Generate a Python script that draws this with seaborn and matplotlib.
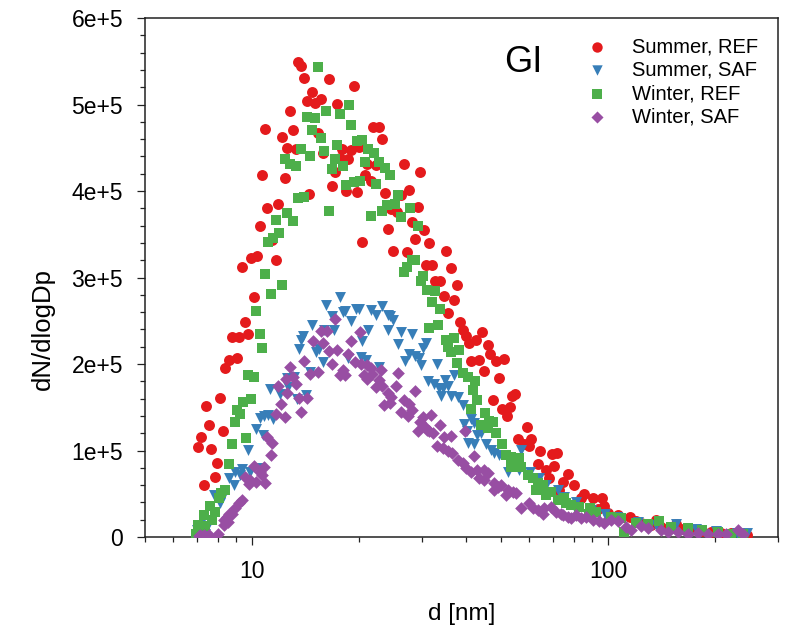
import matplotlib
matplotlib.use("Agg")
import matplotlib.pyplot as plt
import numpy as np
import pandas as pd
import seaborn as sns
from matplotlib.ticker import LogLocator, MultipleLocator, FuncFormatter, NullFormatter, FixedLocator

# ---------------- data (d in nm, dN/dlogDp in thousands) ----------------
series_labels = ["Summer, REF", "Summer, SAF", "Winter, REF", "Winter, SAF"]
series_colors = ["#E41A1C", "#377EB8", "#4DAF4A", "#984EA3"]
series_markers = ["o", "v", "s", "D"]

summer_ref_d = [7.03, 7.16, 7.30, 7.42, 7.55, 7.68, 7.84, 7.98, 8.14, 8.26,
                8.41, 8.59, 8.79, 9.07, 9.17, 9.39, 9.57, 9.72, 9.91, 10.1,
                10.3, 10.5, 10.67, 10.85, 11.04, 11.35, 11.67, 11.85, 12.09, 12.33,
                12.55, 12.76, 13.01, 13.24, 13.44, 13.74, 13.97, 14.22, 14.47, 14.75,
                15.0, 15.27, 15.57, 15.84, 16.43, 16.72, 17.05, 17.35, 17.64, 17.92,
                18.31, 18.63, 19.0, 19.33, 19.66, 19.95, 20.37, 20.74, 21.07, 21.52,
                21.9, 22.23, 22.72, 23.12, 23.54, 24.0, 24.5, 24.82, 25.6, 26.14,
                26.7, 27.18, 27.66, 28.14, 28.7, 29.2, 29.7, 30.3, 30.84, 31.4,
                31.96, 32.6, 33.7, 34.5, 35.0, 35.6, 36.3, 37.0, 37.6, 38.3,
                39.0, 39.8, 40.7, 41.15, 42.5, 43.4, 44.2, 44.9, 45.9, 46.7,
                47.6, 48.4, 49.3, 50.2, 51.1, 51.9, 53.0, 53.6, 54.7, 56.0,
                58.2, 59.0, 60.1, 60.7, 63.5, 64.5, 66.9, 68.4, 69.6, 70.6,
                71.9, 73.0, 74.6, 77.2, 80.3, 83.9, 85.8, 90.9, 93.5, 96.0,
                97.3, 99.9, 106.8, 115,
                120, 124, 132, 136, 141, 150, 155, 160, 171, 183,
                195, 208, 222, 237, 245]
summer_ref_n = [104, 116, 60, 152, 130, 102, 69, 86, 161, 122,
                195, 205, 231, 207, 231, 312, 248, 235, 322, 277,
                325, 360, 418, 472, 380, 343, 320, 385, 462, 415,
                450, 492, 470, 448, 549, 544, 531, 504, 397, 514,
                502, 467, 506, 444, 530, 406, 422, 501, 438, 449,
                400, 437, 447, 521, 399, 451, 341, 419, 431, 411,
                474, 430, 474, 460, 398, 356, 379, 331, 376, 395,
                431, 329, 401, 364, 344, 381, 422, 355, 314, 340,
                315, 296, 296, 279, 331, 259, 311, 274, 291, 248,
                239, 232, 224, 204, 228, 205, 237, 192, 222, 212,
                158, 204, 184, 148, 206, 140, 150, 163, 165, 113,
                108, 127, 105, 113, 84, 99, 77, 68, 96, 82,
                97, 54, 64, 73, 60, 45, 50, 45, 32, 45,
                36, 28, 25, 23,
                18, 16, 14, 20, 12, 10, 15, 9, 8, 7,
                6, 5, 5, 4, 2]

summer_saf_d = [6.99, 7.07, 7.15, 7.39, 7.47, 7.79, 7.96, 8.14, 8.25, 8.59,
                8.9, 8.97, 9.27, 9.37, 9.74, 9.89, 10.28, 10.44, 10.54, 10.71,
                10.83, 11.06, 11.2, 11.45, 11.94, 12.56, 12.64, 13.1, 13.33, 13.51,
                13.73, 13.9, 14.13, 14.53, 14.73, 15.16, 15.36, 15.85, 15.9, 16.13,
                16.8, 16.98, 17.66, 17.98, 18.22, 18.55, 19.0, 19.53, 19.95, 20.17,
                20.4, 20.84, 21.1, 21.6, 22.23, 22.72, 23.1, 24.0, 24.4, 24.0,
                24.9, 25.7, 26.2, 26.8, 27.6, 28.1, 28.6, 29.5, 29.8, 30.2,
                30.8, 31.2, 32.4, 33.1, 33.5, 33.9, 34.3, 34.9, 35.4, 36.2,
                36.9, 37.8, 39.0, 39.4, 40.1, 40.3, 41.2, 42.0, 42.0, 42.9,
                43.9, 45.4, 46.9, 47.9, 49.4, 52.2, 56.3, 56.9, 60.4, 64.1,
                66.9, 72.3, 75.2, 80.5, 81.3, 89.6, 97.8, 105.6, 121.1, 136.5,
                155.4, 177, 201, 230, 245]
summer_saf_n = [8, 6, 14, 4, 12, 48, 46, 39, 45, 68,
                60, 75, 72, 79, 101, 75, 125, 80, 138, 118,
                140, 141, 171, 137, 165, 184, 173, 185, 160, 217,
                228, 232, 164, 191, 245, 214, 217, 202, 239, 268,
                256, 239, 277, 260, 261, 207, 250, 264, 264, 208,
                227, 205, 239, 263, 257, 197, 267, 257, 256, 239,
                251, 223, 237, 203, 212, 235, 209, 207, 199, 218,
                224, 180, 177, 200, 172, 163, 172, 181, 175, 163,
                187, 162, 153, 131, 123, 109, 136, 132, 108, 118,
                120, 108, 101, 97, 95, 75, 77, 101, 75, 68,
                60, 54, 46, 33, 41, 31, 27, 23, 17, 14,
                15, 9, 7, 5, 5]

winter_ref_d = [6.96, 7.03, 7.30, 7.39, 7.59, 7.71, 7.88, 8.05, 8.19, 8.37,
                8.59, 8.77, 8.94, 9.07, 9.23, 9.45, 9.59, 9.73, 9.92, 10.1,
                10.28, 10.5, 10.64, 10.85, 11.06, 11.28, 11.42, 11.65, 11.89, 12.12,
                12.35, 12.5, 12.76, 13.01, 13.26, 13.44, 13.75, 13.97, 14.22, 14.53,
                14.73, 14.97, 15.3, 15.62, 15.92, 16.11, 16.43, 16.76, 17.08, 17.33,
                17.65, 18.0, 18.35, 18.71, 18.96, 19.33, 19.76, 20.05, 20.35, 20.74,
                21.15, 21.56, 21.99, 22.28, 22.7, 23.17, 23.6, 23.88, 24.4, 25.15,
                25.7, 26.17, 26.7, 27.2, 27.76, 28.15, 28.7, 29.26, 29.76, 30.2,
                30.9, 31.4, 32.1, 32.7, 33.2, 33.7, 35.0, 35.4, 36.1, 36.9,
                37.6, 38.1, 39.0, 40.3, 41.3, 41.8, 42.2, 42.9, 43.9, 45.1,
                45.9, 46.4, 47.4, 48.4, 50.4, 51.6, 53.3, 53.3, 55.1, 56.3,
                56.9, 59.5, 61.4, 62.7, 63.5, 65.5, 66.9, 69.1, 72.3, 75.4,
                76.2, 78.7, 82.9, 88.5, 89.1, 92.5, 101.9, 108.8, 111, 119.7,
                129.5, 138.8, 150.4, 167.6, 183, 203, 222, 239]
winter_ref_n = [4, 14, 25, 13, 36, 20, 29, 45, 51, 54,
                84, 107, 133, 147, 142, 156, 114, 187, 160, 185,
                261, 235, 219, 304, 341, 281, 346, 367, 351, 291,
                437, 375, 431, 365, 429, 392, 449, 393, 485, 440,
                470, 484, 543, 461, 446, 492, 377, 425, 437, 453,
                489, 429, 407, 500, 476, 410, 458, 411, 459, 434,
                449, 371, 444, 408, 433, 377, 427, 384, 419, 385,
                395, 370, 306, 312, 380, 320, 320, 360, 296, 302,
                285, 242, 272, 284, 245, 264, 228, 220, 214, 230,
                201, 216, 190, 185, 148, 170, 180, 158, 129, 143,
                126, 134, 133, 120, 108, 95, 93, 81, 87, 91,
                81, 72, 68, 54, 62, 60, 49, 52, 43, 45,
                39, 37, 35, 27, 34, 29, 23, 22, 6, 16,
                15, 18, 12, 10, 8, 6, 4, 4]

winter_saf_d = [7.08, 7.15, 7.30, 7.55, 7.63, 8.0, 8.32, 8.32, 8.5, 8.55,
                8.59, 8.79, 8.97, 9.18, 9.37, 9.57, 9.78, 9.89, 10.1, 10.28,
                10.55, 10.67, 10.78, 10.9, 11.04, 11.26, 11.38, 11.63, 11.85, 12.04,
                12.33, 12.41, 12.55, 12.78, 12.99, 13.24, 13.52, 13.74, 13.97, 14.22,
                14.55, 14.85, 15.27, 15.57, 15.84, 16.22, 16.43, 16.8, 17.05, 17.35,
                17.61, 17.99, 18.25, 18.61, 19.0, 19.39, 20.07, 20.23, 20.6, 20.96,
                21.05, 21.62, 21.72, 22.23, 22.72, 22.96, 23.23, 23.49, 24.07, 24.4,
                24.5, 25.3, 25.7, 26.14, 26.7, 27.4, 27.5, 28.1, 28.7, 29.2,
                29.7, 30.1, 30.6, 31.06, 31.4, 31.9, 32.2, 33.1, 33.8, 34.3,
                34.5, 35.6, 36.15, 36.5, 37.9, 39.0, 39.5, 40.0, 41.15, 42.0,
                42.9, 43.4, 44.9, 44.9, 45.9, 47.9, 47.9, 49.0, 50.0, 51.6,
                52.2, 53.9, 55.1, 56.9, 60.1, 61.4, 63.5, 65.5, 66.2, 69.1,
                71.4, 73.7, 74.6, 77.2, 78.7, 81.3, 83.9, 86.7, 90.6, 94.4,
                97.5, 101.9, 106.4, 112.4, 116.1, 123.8, 129.5, 141, 147.2, 157,
                167.6, 179, 191, 203, 215, 232, 239]
winter_saf_n = [1, 2, 2, 2, 0.3, 4, 20, 14, 23, 17,
                27, 27, 34, 39, 43, 69, 61, 66, 82, 64,
                75, 72, 81, 63, 116, 95, 109, 142, 175, 154,
                139, 183, 166, 197, 185, 177, 161, 144, 204, 161,
                188, 227, 191, 238, 224, 238, 215, 200, 252, 216,
                187, 193, 187, 211, 227, 202, 237, 200, 187, 183,
                199, 195, 189, 174, 181, 193, 175, 153, 167, 155,
                162, 175, 190, 144, 158, 140, 154, 147, 169, 122,
                133, 139, 127, 124, 122, 141, 120, 105, 129, 103,
                116, 100, 117, 97, 89, 86, 122, 80, 75, 94,
                77, 68, 77, 66, 74, 62, 54, 58, 60, 49,
                54, 52, 51, 33, 39, 33, 31, 27, 33, 35,
                29, 27, 25, 23, 22, 25, 22, 23, 20, 18,
                16, 20, 18, 12, 8, 13, 10, 8, 6, 6,
                4, 5, 3.5, 4, 3.5, 8, 4]

# ---------------- build table ----------------
frames = []
for lab, d, n in zip(series_labels,
                     [summer_ref_d, summer_saf_d, winter_ref_d, winter_saf_d],
                     [summer_ref_n, summer_saf_n, winter_ref_n, winter_saf_n]):
    frames.append(pd.DataFrame({"d": d, "N": np.array(n, dtype=float) * 1e3, "series": lab}))
df = pd.concat(frames, ignore_index=True)

# ---------------- plot ----------------
sns.set_style("ticks")
plt.rcParams["font.family"] = ["Liberation Sans", "DejaVu Sans"]
plt.rcParams["text.color"] = "black"
plt.rcParams["axes.labelcolor"] = "black"
plt.rcParams["xtick.color"] = "black"
plt.rcParams["ytick.color"] = "black"

fig = plt.figure(figsize=(7.89, 6.32), dpi=100)
ax = fig.add_axes([0.1838, 0.1503, 0.8022, 0.8212])

sizes = {"o": 62, "v": 62, "s": 54, "D": 42}
for lab, col, mk in zip(series_labels, series_colors, series_markers):
    sub = df[df["series"] == lab]
    sns.scatterplot(data=sub, x="d", y="N", ax=ax, color=col, marker=mk,
                    s=sizes[mk], linewidth=0, label=lab, zorder=3)

ax.set_xscale("log")
ax.set_xlim(5, 300)
ax.set_ylim(0, 6e5)

ax.xaxis.set_major_locator(FixedLocator([10, 100]))
ax.xaxis.set_major_formatter(FuncFormatter(lambda v, p: f"{v:g}"))
ax.xaxis.set_minor_locator(LogLocator(base=10, subs=np.arange(2, 10)))
ax.xaxis.set_minor_formatter(NullFormatter())

ax.yaxis.set_major_locator(MultipleLocator(1e5))
ax.yaxis.set_minor_locator(MultipleLocator(2e4))
ax.yaxis.set_major_formatter(FuncFormatter(lambda v, p: "0" if abs(v) < 1 else f"{v/1e5:.0f}e+5"))

for s in ["top", "right", "left", "bottom"]:
    ax.spines[s].set_visible(True)
    ax.spines[s].set_color("#222222")
    ax.spines[s].set_linewidth(1.1)

ax.tick_params(which="major", direction="out", length=5.8, width=0.9, labelsize=16.5,
               color="#222222", labelcolor="black", top=False, right=False)
ax.tick_params(which="minor", direction="out", length=3.6, width=0.9,
               color="#222222", top=False, right=False)
ax.tick_params(axis="x", which="major", pad=11)
ax.tick_params(axis="y", which="major", pad=10)

ax.set_xlabel("d [nm]", fontsize=17.5, labelpad=14)
ax.set_ylabel("dN/dlogDp", fontsize=18.5)
ax.yaxis.set_label_coords(-0.142, 0.40)

ax.text(0.567, 0.915, "GI", transform=ax.transAxes, fontsize=26, ha="left", va="center")

leg = ax.legend(loc="upper left", bbox_to_anchor=(0.698, 0.963), frameon=False,
                fontsize=14.5, handlelength=1.0, handletextpad=1.25,
                labelspacing=0.22, borderpad=0, borderaxespad=0, markerscale=0.95)

fig.savefig("out.png", dpi=100)
